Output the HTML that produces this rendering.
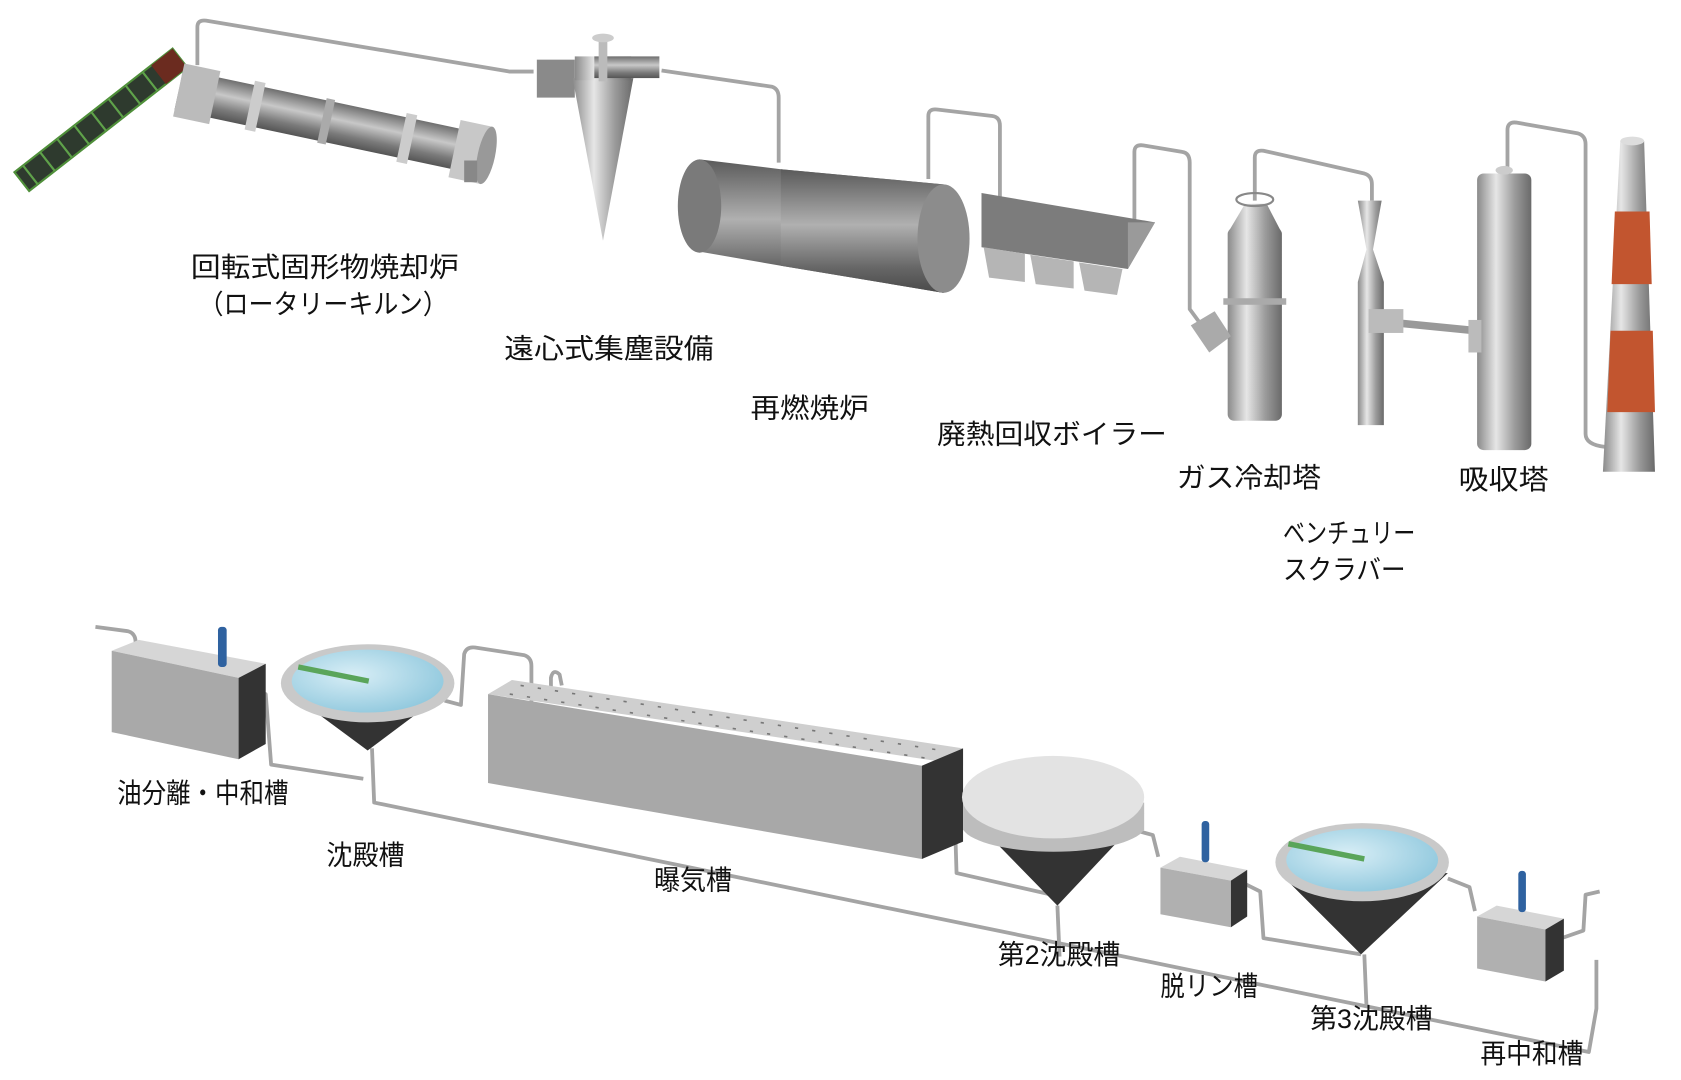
<!DOCTYPE html>
<html><head><meta charset="utf-8"><style>
html,body{margin:0;padding:0;background:#fff;}
svg{display:block;}
text{font-family:"Liberation Sans","Noto Sans CJK JP",sans-serif;font-size:25px;fill:#111;}
</style></head><body>
<svg width="1681" height="1080" viewBox="0 0 1550 995.8" preserveAspectRatio="none" xmlns="http://www.w3.org/2000/svg">
<defs>
<linearGradient id="cylV" x1="0" y1="0" x2="1" y2="0">
<stop offset="0" stop-color="#8a8a8a"/><stop offset="0.35" stop-color="#e6e6e6"/><stop offset="0.7" stop-color="#9a9a9a"/><stop offset="1" stop-color="#6a6a6a"/></linearGradient>
<linearGradient id="cylH" x1="0" y1="0" x2="0" y2="1">
<stop offset="0" stop-color="#6f6f6f"/><stop offset="0.4" stop-color="#c8c8c8"/><stop offset="0.75" stop-color="#7a7a7a"/><stop offset="1" stop-color="#555"/></linearGradient>
<linearGradient id="big" x1="0" y1="0" x2="0" y2="1">
<stop offset="0" stop-color="#5a5a5a"/><stop offset="0.45" stop-color="#b0b0b0"/><stop offset="0.8" stop-color="#666"/><stop offset="1" stop-color="#4a4a4a"/></linearGradient>
<radialGradient id="water" cx="0.4" cy="0.4" r="0.7"><stop offset="0" stop-color="#d8eef6"/><stop offset="1" stop-color="#8cc6dc"/></radialGradient>
</defs>

<g fill="none" stroke="#a4a4a4" stroke-width="3.5" stroke-linejoin="round">
<path d="M182,60 L182,25 Q182,18 190,19 L470,66 L492,66"/>
<path d="M610,65 L712,80 Q718,82 718,90 L718,150"/>
<path d="M856,165 L856,107 Q856,100 864,101 L915,107 Q922,108 922,116 L922,185"/>
<path d="M1046,210 L1046,140 Q1046,133 1054,134 L1090,140 Q1097,141 1097,150 L1097,285 L1108,300"/>
<path d="M1157,185 L1157,145 Q1157,138 1165,139 L1258,160 Q1265,162 1265,170 L1265,185"/>
<path d="M1390,160 L1390,120 Q1390,112 1398,113 L1455,123 Q1462,125 1462,133 L1462,400 Q1462,410 1480,412"/>
</g>
<path d="M1280,297 L1362,305" stroke="#999" stroke-width="7"/>

<g transform="rotate(-38 92 110)">
<rect x="0" y="100" width="185" height="22" fill="#2e3a2e" stroke="#4f8f3a" stroke-width="2"/>
<g stroke="#5fa24a" stroke-width="2"><path d="M10,100v22M30,100v22M50,100v22M70,100v22M90,100v22M110,100v22M130,100v22M150,100v22"/></g>
<rect x="160" y="100" width="25" height="22" fill="#6b2b1f"/>
</g>

<g transform="rotate(12 165 82)">
<rect x="165" y="64" width="285" height="38" fill="url(#cylH)"/>
<rect x="165" y="58" width="34" height="50" fill="#bbb"/>
<rect x="232" y="60" width="10" height="46" fill="#ccc"/>
<rect x="300" y="62" width="8" height="42" fill="#aaa"/>
<rect x="375" y="60" width="10" height="46" fill="#ccc"/>
<rect x="425" y="56" width="30" height="54" fill="#c8c8c8"/>
<ellipse cx="455" cy="83" rx="8" ry="27" fill="#999"/>
</g>
<rect x="428" y="148" width="12" height="20" fill="#888"/>

<rect x="495" y="55" width="35" height="35" fill="#8a8a8a"/>
<polygon points="528,72 584,72 556,222" fill="url(#cylV)"/>
<rect x="530" y="52" width="52" height="22" fill="url(#cylV)"/>
<rect x="548" y="52" width="60" height="20" fill="url(#cylH)"/>
<rect x="552" y="35" width="8" height="40" fill="#bbb"/>
<ellipse cx="556" cy="35" rx="10" ry="4" fill="#ccc"/>

<polygon points="645,147 720,156 870,170 870,270 720,245 645,232" fill="url(#big)"/>
<ellipse cx="645" cy="190" rx="20" ry="43" fill="#7a7a7a"/>
<polygon points="720,156 870,170 870,270 720,245" fill="url(#big)"/>
<ellipse cx="870" cy="220" rx="24" ry="50" fill="#8c8c8c"/>

<polygon points="905,178 1065,205 1040,248 905,228" fill="#7c7c7c"/>
<polygon points="1040,205 1065,205 1040,248" fill="#9a9a9a"/>
<polygon points="907,228 945,234 945,260 912,256" fill="#b5b5b5"/>
<polygon points="950,235 990,241 990,266 955,262" fill="#b5b5b5"/>
<polygon points="995,242 1035,248 1030,272 1000,268" fill="#b5b5b5"/>

<rect x="1132" y="210" width="50" height="178" rx="6" fill="url(#cylV)"/>
<polygon points="1148,188 1168,188 1182,215 1132,215" fill="url(#cylV)"/>
<ellipse cx="1157" cy="184" rx="17" ry="6" fill="none" stroke="#888" stroke-width="2"/>
<rect x="1128" y="275" width="58" height="6" fill="#aaa"/>
<polygon points="1098,300 1120,287 1135,310 1115,325" fill="#aaa"/>

<polygon points="1252,185 1274,185 1266,230 1276,260 1276,392 1252,392 1252,260 1260,230" fill="url(#cylV)"/>
<rect x="1262" y="285" width="32" height="22" fill="#bbb"/>

<rect x="1362" y="160" width="50" height="255" rx="6" fill="url(#cylV)"/>
<ellipse cx="1387" cy="157" rx="8" ry="4" fill="#ccc"/>
<rect x="1354" y="295" width="12" height="30" fill="#bbb"/>

<polygon points="1494,130 1516,130 1526,435 1478,435" fill="url(#cylV)"/>
<polygon points="1489,195 1521,195 1523,262 1486,262" fill="#c2552f"/>
<polygon points="1485,305 1524,305 1526,380 1482,380" fill="#c2552f"/>
<ellipse cx="1505" cy="130" rx="11" ry="4" fill="#ddd"/>

<text x="176" y="255" textLength="247" lengthAdjust="spacingAndGlyphs">回転式固形物焼却炉</text>
<text x="183" y="289" textLength="230" lengthAdjust="spacingAndGlyphs">（ロータリーキルン）</text>
<text x="465" y="330" textLength="193" lengthAdjust="spacingAndGlyphs">遠心式集塵設備</text>
<text x="692" y="385" textLength="109" lengthAdjust="spacingAndGlyphs">再燃焼炉</text>
<text x="864" y="409" textLength="212" lengthAdjust="spacingAndGlyphs">廃熱回収ボイラー</text>
<text x="1085" y="449" textLength="133" lengthAdjust="spacingAndGlyphs">ガス冷却塔</text>
<text x="1345" y="451" textLength="83" lengthAdjust="spacingAndGlyphs">吸収塔</text>
<text x="1183" y="500" textLength="122" lengthAdjust="spacingAndGlyphs">ベンチュリー</text>
<text x="1183" y="534" textLength="113" lengthAdjust="spacingAndGlyphs">スクラバー</text>

<g fill="none" stroke="#a4a4a4" stroke-width="3.5" stroke-linejoin="round">
<path d="M88,578 L118,582 Q125,584 125,592 L125,600"/>
<path d="M228,636 L245,640 L250,705 L335,718"/>
<path d="M410,646 L425,650 L428,603 Q430,596 438,597 L483,604 Q490,606 490,614 L490,660"/>
<path d="M508,640 L508,625 Q510,616 516,622 L518,632"/>
<path d="M343,690 L345,740 L1465,970 L1472,930 L1472,885"/>
<path d="M855,750 L880,740 L882,805 L970,825"/>
<path d="M975,835 L977,882"/>
<path d="M1045,765 L1063,770 L1068,790"/>
<path d="M1148,815 L1162,822 L1165,865 L1255,880"/>
<path d="M1258,880 L1260,928"/>
<path d="M1335,810 L1355,818 L1360,840"/>
<path d="M1440,865 L1460,858 L1462,825 L1475,822"/>
</g>

<polygon points="103,600 128,590 245,612 220,625" fill="#d6d6d6"/>
<polygon points="103,600 220,625 220,700 103,675" fill="#a9a9a9"/>
<polygon points="220,625 245,612 245,686 220,700" fill="#333"/>
<rect x="201" y="578" width="8" height="37" rx="3" fill="#2f62a0"/>

<polygon points="262,635 415,635 339,692" fill="#333"/>
<ellipse cx="339" cy="630" rx="80" ry="36" fill="#c9c9c9"/>
<ellipse cx="339" cy="628" rx="70" ry="29" fill="url(#water)"/>
<path d="M275,615 L340,628" stroke="#5aa55a" stroke-width="5"/>

<polygon points="450,640 472,627 888,690 866,702" fill="#cfcfcf"/>
<polygon points="450,640 850,706 850,792 450,722" fill="#a8a8a8"/>
<polygon points="850,706 888,690 888,776 850,792" fill="#333"/>
<g stroke="#777" stroke-width="1.5">
<path d="M470,640 L860,700" stroke-dasharray="3 13"/>
<path d="M480,632 L875,693" stroke-dasharray="3 13"/>
</g>

<polygon points="892,750 1055,750 975,835" fill="#333"/>
<path d="M888,740 L888,765 A85,25 0 0 0 1055,765 L1055,740 Z" fill="#bdbdbd"/>
<ellipse cx="971" cy="735" rx="84" ry="38" fill="#e3e3e3"/>

<polygon points="1070,800 1088,790 1150,802 1135,812" fill="#d6d6d6"/>
<polygon points="1070,800 1135,812 1135,855 1070,843" fill="#b0b0b0"/>
<polygon points="1135,812 1150,802 1150,845 1135,855" fill="#333"/>
<rect x="1108" y="757" width="7" height="38" rx="3" fill="#2f62a0"/>

<polygon points="1180,805 1335,805 1255,880" fill="#333"/>
<ellipse cx="1256" cy="795" rx="80" ry="36" fill="#c9c9c9"/>
<ellipse cx="1256" cy="793" rx="70" ry="29" fill="url(#water)"/>
<path d="M1188,778 L1258,792" stroke="#5aa55a" stroke-width="5"/>

<polygon points="1362,845 1380,835 1442,847 1425,857" fill="#d6d6d6"/>
<polygon points="1362,845 1425,857 1425,905 1362,893" fill="#b0b0b0"/>
<polygon points="1425,857 1442,847 1442,895 1425,905" fill="#333"/>
<rect x="1400" y="803" width="7" height="38" rx="3" fill="#2f62a0"/>

<text x="108" y="740" textLength="158" lengthAdjust="spacingAndGlyphs">油分離・中和槽</text>
<text x="301" y="797" textLength="72" lengthAdjust="spacingAndGlyphs">沈殿槽</text>
<text x="603" y="820" textLength="72" lengthAdjust="spacingAndGlyphs">曝気槽</text>
<text x="920" y="889" textLength="113" lengthAdjust="spacingAndGlyphs">第2沈殿槽</text>
<text x="1070" y="918" textLength="90" lengthAdjust="spacingAndGlyphs">脱リン槽</text>
<text x="1208" y="948" textLength="113" lengthAdjust="spacingAndGlyphs">第3沈殿槽</text>
<text x="1365" y="980" textLength="95" lengthAdjust="spacingAndGlyphs">再中和槽</text>
</svg>
</body></html>
